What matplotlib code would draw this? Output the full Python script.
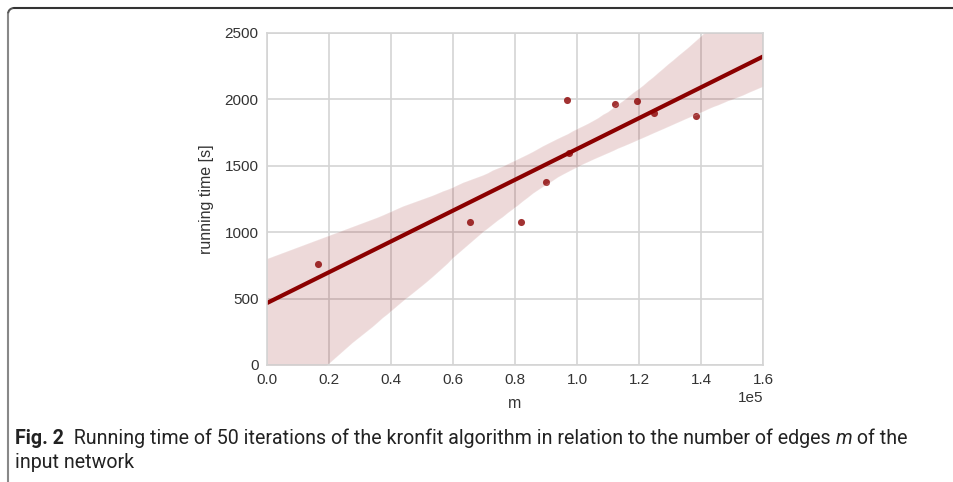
import numpy as np
import pandas as pd
import matplotlib
matplotlib.use("Agg")
import matplotlib.pyplot as plt
import seaborn as sns
from matplotlib.lines import Line2D
from matplotlib.patches import Arc
from matplotlib import font_manager

# edges m vs running time of 50 kronfit iterations
m_edges = [16550, 65400, 82000, 90100, 96700, 97400, 112300, 119400, 124800, 138400]
run_time = [760, 1075, 1075, 1380, 1995, 1594, 1965, 1988, 1900, 1875]
x_ticks = [0.0, 0.2e5, 0.4e5, 0.6e5, 0.8e5, 1.0e5, 1.2e5, 1.4e5, 1.6e5]
y_ticks = [0, 500, 1000, 1500, 2000, 2500]

data = pd.DataFrame({"m": m_edges, "t": run_time})

sns.set_style("whitegrid", {"grid.color": "#d4d4d4", "axes.edgecolor": "#d4d4d4"})
plt.rcParams["font.family"] = ["Liberation Sans", "DejaVu Sans"]

W, H = 954, 482
fig = plt.figure(figsize=(W / 100, H / 100), dpi=100)
ax = fig.add_axes([267 / W, 1 - 365 / H, (763 - 267) / W, (365 - 33) / H])
ax.set_xlim(0, 1.6e5)
ax.set_ylim(0, 2500)

sns.regplot(data=data, x="m", y="t", ax=ax, color="#8b0000", truncate=False,
            seed=7, scatter_kws={"s": 26, "alpha": 0.8, "linewidths": 0},
            line_kws={"lw": 3})
ax.set_xlim(0, 1.6e5)
ax.set_ylim(0, 2500)
ax.set_xticks(x_ticks)
ax.set_yticks(y_ticks)
ax.ticklabel_format(axis="x", style="sci", scilimits=(0, 0))
ax.tick_params(labelsize=11, colors="#333333", length=0, pad=6)
ax.xaxis.get_offset_text().set_fontsize(11)
ax.xaxis.get_offset_text().set_color("#333333")
ax.set_xlabel("m", fontsize=11.5, color="#333333", labelpad=6)
ax.set_ylabel("running time [s]", fontsize=11.5, color="#333333", labelpad=8)
for s in ax.spines.values():
    s.set_linewidth(1.2)
ax.grid(True, lw=1.2)


def px(x, y):
    return x / W, 1 - y / H


# page frame (top and left edge of the figure box)
fig.add_artist(Line2D([px(14, 0)[0], 1.0], [px(0, 8)[1]] * 2, transform=fig.transFigure,
                      color="#333333", lw=1.5))
fig.add_artist(Line2D([px(8, 0)[0]] * 2, [px(0, 14)[1], 0.0], transform=fig.transFigure,
                      color="#888888", lw=1.5))
fig.add_artist(Arc(px(14, 14), 12 / W, 12 / H, theta1=90, theta2=180,
                   transform=fig.transFigure, color="#555555", lw=1.5))

# caption
names = {f.name for f in font_manager.fontManager.ttflist}
cap_font = ["Liberation Sans Narrow", "DejaVu Sans"] if "Liberation Sans Narrow" in names else ["Roboto", "DejaVu Sans"]
pieces1 = [("Fig. 2", "bold", "normal"),
           ("  Running time of 50 iterations of the kronfit algorithm in relation to the number of edges ", "normal", "normal"),
           ("m", "normal", "italic"), (" of the", "normal", "normal")]
fig.canvas.draw()
r = fig.canvas.get_renderer()

# fit caption size to the line width of the reference
fs = 12
total = 0
for txt, wt, st in pieces1:
    t = fig.text(0, 0, txt, fontsize=fs, fontweight=wt, fontstyle=st, family=cap_font)
    total += t.get_window_extent(r).width
    t.remove()
fs = fs * 890 / total

x0 = 15
xcur = x0
for txt, wt, st in pieces1:
    t = fig.text(*px(xcur, 444), txt, fontsize=fs, fontweight=wt, fontstyle=st,
                 family=cap_font, color="#222222", va="baseline", ha="left")
    xcur += t.get_window_extent(r).width
fig.text(*px(x0, 468), "input network", fontsize=fs, family=cap_font,
         color="#222222", va="baseline", ha="left")

fig.savefig("out.png", dpi=100)
